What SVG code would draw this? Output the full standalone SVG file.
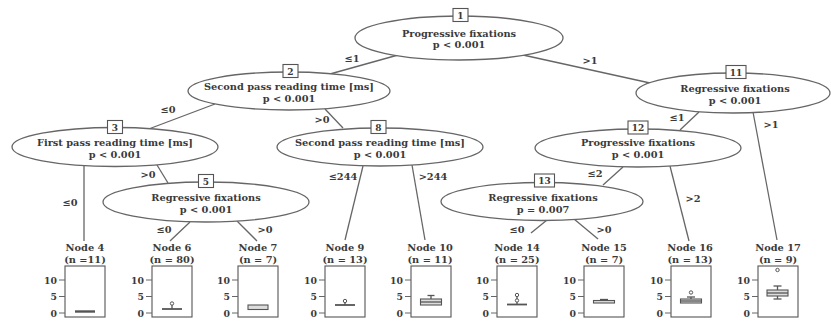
<svg xmlns="http://www.w3.org/2000/svg" width="831" height="322" viewBox="0 0 831 322">
<style>
text{font-family:"DejaVu Serif","Liberation Serif",serif;font-weight:bold;fill:#3a3a3a;text-anchor:middle}
.lab{font-size:9.8px}
.num{font-size:9px}
.el{font-size:9.8px}
.lf{font-size:9.8px}
.tk{font-size:9.3px;text-anchor:end}
.ed line{stroke:#666;stroke-width:1.3}
ellipse{fill:#fff;stroke:#666;stroke-width:1.3}
rect.nb{fill:#fff;stroke:#555;stroke-width:1.1}
rect.pb{fill:#fff;stroke:#555;stroke-width:1.1}
.ax line{stroke:#666;stroke-width:1}
.bp{stroke:#555;stroke-width:1.1;fill:#ddd}
.bl{stroke:#555;stroke-width:1.3;fill:none}
.ol{fill:#fff;stroke:#555;stroke-width:1}
</style>
<defs>
<g id="axis" class="ax">
<line x1="-6" y1="280" x2="0" y2="280"/><line x1="-6" y1="296.5" x2="0" y2="296.5"/><line x1="-6" y1="313" x2="0" y2="313"/>
<text class="tk" x="-8" y="283.5">10</text><text class="tk" x="-8" y="300">5</text><text class="tk" x="-8" y="316.5">0</text>
</g>
</defs>
<g id="connectors" class="ed">
<line x1="398" y1="55" x2="330" y2="74"/>
<line x1="523" y1="55" x2="650" y2="83"/>
<line x1="215" y1="104" x2="150" y2="128.5"/>
<line x1="325" y1="109" x2="343" y2="128"/>
<line x1="84" y1="166" x2="84" y2="241"/>
<line x1="157" y1="165" x2="168" y2="183"/>
<line x1="190" y1="222" x2="170" y2="241"/>
<line x1="237" y1="221" x2="257" y2="241"/>
<line x1="363" y1="166" x2="345" y2="240"/>
<line x1="412" y1="165" x2="425" y2="240"/>
<line x1="699" y1="112" x2="680" y2="130"/>
<line x1="753" y1="112" x2="777" y2="240"/>
<line x1="623" y1="167" x2="603" y2="185"/>
<line x1="670" y1="166" x2="689" y2="241"/>
<line x1="547" y1="220" x2="531" y2="233"/>
<line x1="574" y1="219" x2="598" y2="239"/>
</g>
<g id="edge-labels">
<text class="el" x="352" y="62">≤1</text>
<text class="el" x="590" y="64">&gt;1</text>
<text class="el" x="168" y="113">≤0</text>
<text class="el" x="322" y="123">&gt;0</text>
<text class="el" x="70" y="206">≤0</text>
<text class="el" x="148" y="178">&gt;0</text>
<text class="el" x="164" y="233">≤0</text>
<text class="el" x="265" y="233">&gt;0</text>
<text class="el" x="343" y="180">≤244</text>
<text class="el" x="433" y="180">&gt;244</text>
<text class="el" x="677" y="121">≤1</text>
<text class="el" x="771" y="128">&gt;1</text>
<text class="el" x="595" y="177">≤2</text>
<text class="el" x="693" y="202">&gt;2</text>
<text class="el" x="517" y="233">≤0</text>
<text class="el" x="604" y="233">&gt;0</text>
</g>
<g id="node1">
<ellipse cx="459" cy="38" rx="104" ry="22"/>
<rect class="nb" x="453" y="8.5" width="15" height="13"/>
<text class="num" x="460.5" y="18.5">1</text>
<text class="lab" x="459" y="36.5">Progressive fixations</text>
<text class="lab" x="459" y="48">p &lt; 0.001</text>
</g>
<g id="node2">
<ellipse cx="289" cy="91" rx="101" ry="19"/>
<rect class="nb" x="283" y="64.5" width="15" height="13"/>
<text class="num" x="290.5" y="74.5">2</text>
<text class="lab" x="289" y="90">Second pass reading time [ms]</text>
<text class="lab" x="289" y="101.5">p &lt; 0.001</text>
</g>
<g id="node3">
<ellipse cx="115" cy="147" rx="103" ry="19.5"/>
<rect class="nb" x="107.5" y="120.5" width="15" height="13"/>
<text class="num" x="115" y="130.5">3</text>
<text class="lab" x="115" y="146">First pass reading time [ms]</text>
<text class="lab" x="115" y="157.5">p &lt; 0.001</text>
</g>
<g id="node8">
<ellipse cx="380" cy="147" rx="103" ry="19"/>
<rect class="nb" x="371" y="120.5" width="15" height="13"/>
<text class="num" x="378.5" y="130.5">8</text>
<text class="lab" x="380" y="146">Second pass reading time [ms]</text>
<text class="lab" x="380" y="157.5">p &lt; 0.001</text>
</g>
<g id="node5">
<ellipse cx="206" cy="202" rx="103" ry="20"/>
<rect class="nb" x="198.5" y="174.5" width="15" height="13"/>
<text class="num" x="206" y="184.5">5</text>
<text class="lab" x="206" y="201">Regressive fixations</text>
<text class="lab" x="206" y="212.5">p &lt; 0.001</text>
</g>
<g id="node11">
<ellipse cx="733" cy="93" rx="97" ry="20"/>
<rect class="nb" x="726" y="65.5" width="20" height="13"/>
<text class="num" x="736" y="75.5">11</text>
<text class="lab" x="735" y="92">Regressive fixations</text>
<text class="lab" x="735" y="103.5">p &lt; 0.001</text>
</g>
<g id="node12">
<ellipse cx="638" cy="148" rx="103" ry="19"/>
<rect class="nb" x="628" y="121" width="20" height="13"/>
<text class="num" x="638" y="131">12</text>
<text class="lab" x="638" y="146">Progressive fixations</text>
<text class="lab" x="638" y="157.5">p &lt; 0.001</text>
</g>
<g id="node13">
<ellipse cx="542" cy="201.5" rx="101" ry="19"/>
<rect class="nb" x="534.5" y="174" width="20" height="13"/>
<text class="num" x="544.5" y="184">13</text>
<text class="lab" x="543" y="201">Regressive fixations</text>
<text class="lab" x="543" y="212.5">p = 0.007</text>
</g>
<g id="node4">
<text class="lf" x="85" y="251">Node 4</text><text class="lf" x="85" y="262.5">(n =11)</text>
<rect class="pb" x="65" y="266" width="40" height="51"/>
<use href="#axis" x="65"/>
<line class="bl" x1="75" y1="311.5" x2="95" y2="311.5" style="stroke-width:2.4"/>
</g>
<g id="node6">
<text class="lf" x="172" y="251">Node 6</text><text class="lf" x="172" y="262.5">(n = 80)</text>
<rect class="pb" x="152" y="266" width="40" height="51"/>
<use href="#axis" x="152"/>
<line class="bl" x1="162" y1="309" x2="182" y2="309" style="stroke-width:1.8"/>
<line class="bl" x1="172" y1="309" x2="172" y2="305"/>
<circle class="ol" cx="172" cy="303.5" r="1.7"/>
</g>
<g id="node7">
<text class="lf" x="258" y="251">Node 7</text><text class="lf" x="258" y="262.5">(n = 7)</text>
<rect class="pb" x="238" y="266" width="40" height="51"/>
<use href="#axis" x="238"/>
<rect class="bp" x="248" y="305" width="20" height="4.5"/>
</g>
<g id="node9">
<text class="lf" x="345" y="251">Node 9</text><text class="lf" x="345" y="262.5">(n = 13)</text>
<rect class="pb" x="325" y="266" width="40" height="51"/>
<use href="#axis" x="325"/>
<line class="bl" x1="335" y1="305" x2="355" y2="305" style="stroke-width:1.8"/>
<line class="bl" x1="345" y1="305" x2="345" y2="302.5"/>
<circle class="ol" cx="345" cy="301" r="1.7"/>
</g>
<g id="node10">
<text class="lf" x="430" y="251">Node 10</text><text class="lf" x="430" y="262.5">(n = 11)</text>
<rect class="pb" x="411" y="266" width="40" height="51"/>
<use href="#axis" x="411"/>
<line class="bl" x1="431" y1="299" x2="431" y2="295.5"/>
<line class="bl" x1="427.5" y1="295.5" x2="434.5" y2="295.5"/>
<rect class="bp" x="420.5" y="299" width="21" height="6"/>
<line class="bl" x1="420.5" y1="302" x2="441.5" y2="302"/>
</g>
<g id="node14">
<text class="lf" x="517" y="251">Node 14</text><text class="lf" x="517" y="262.5">(n = 25)</text>
<rect class="pb" x="497" y="266" width="40" height="51"/>
<use href="#axis" x="497"/>
<line class="bl" x1="507" y1="304.5" x2="527" y2="304.5" style="stroke-width:1.8"/>
<line class="bl" x1="517" y1="304.5" x2="517" y2="296"/>
<circle class="ol" cx="517" cy="300.5" r="1.7"/>
<circle class="ol" cx="517" cy="295" r="1.7"/>
</g>
<g id="node15">
<text class="lf" x="604" y="251">Node 15</text><text class="lf" x="604" y="262.5">(n = 7)</text>
<rect class="pb" x="584" y="266" width="40" height="51"/>
<use href="#axis" x="584"/>
<line class="bl" x1="600" y1="299.5" x2="608" y2="299.5"/>
<rect class="bp" x="593.5" y="300.5" width="21" height="2.5"/>
</g>
<g id="node16">
<text class="lf" x="690" y="251">Node 16</text><text class="lf" x="690" y="262.5">(n = 13)</text>
<rect class="pb" x="671" y="266" width="40" height="51"/>
<use href="#axis" x="671"/>
<line class="bl" x1="691" y1="299" x2="691" y2="297"/>
<line class="bl" x1="687" y1="297" x2="695" y2="297"/>
<circle class="ol" cx="691" cy="292.5" r="1.7"/>
<rect class="bp" x="680.5" y="299" width="21" height="4"/>
<line class="bl" x1="680.5" y1="301" x2="701.5" y2="301"/>
</g>
<g id="node17">
<text class="lf" x="778" y="251">Node 17</text><text class="lf" x="778" y="262.5">(n = 9)</text>
<rect class="pb" x="758" y="266" width="40" height="51"/>
<use href="#axis" x="758"/>
<circle class="ol" cx="777.5" cy="270" r="1.7"/>
<line class="bl" x1="777.5" y1="286" x2="777.5" y2="299"/>
<line class="bl" x1="773.5" y1="286" x2="781.5" y2="286"/>
<line class="bl" x1="773.5" y1="299" x2="781.5" y2="299"/>
<rect class="bp" x="767" y="290" width="21" height="6"/>
<line class="bl" x1="767" y1="293" x2="788" y2="293"/>
</g>
</svg>
